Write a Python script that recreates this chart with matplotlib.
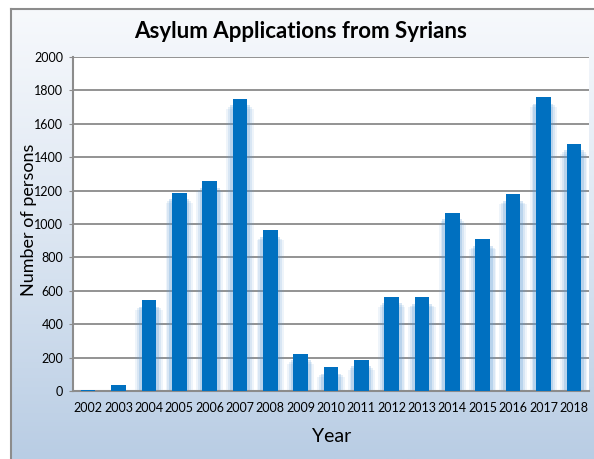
import matplotlib
matplotlib.use("Agg")
import matplotlib.pyplot as plt
import numpy as np
from matplotlib.colors import LinearSegmentedColormap

years = ["2002", "2003", "2004", "2005", "2006", "2007", "2008", "2009", "2010",
         "2011", "2012", "2013", "2014", "2015", "2016", "2017", "2018"]
applications = [8, 38, 545, 1188, 1255, 1750, 962, 224, 144,
                188, 565, 561, 1068, 908, 1178, 1760, 1481]
yticks = [0, 200, 400, 600, 800, 1000, 1200, 1400, 1600, 1800, 2000]

title = "Asylum Applications from Syrians"
xlabel = "Year"
ylabel = "Number of persons"

FONT = ["Lato", "DejaVu Sans"]
plt.rcParams['font.family'] = FONT

W, H = 594, 459
fig = plt.figure(figsize=(W / 100, H / 100), dpi=100)

# background gradient panel
bg = fig.add_axes([11 / W, 0, 1 - 11 / W, 1 - 9 / H])
cmap = LinearSegmentedColormap.from_list("g", ["#f7f9fc", "#dce6f2", "#b9cde4"])
grad = np.linspace(0, 1, 256).reshape(-1, 1)
bg.imshow(grad, aspect="auto", cmap=cmap, extent=[0, 1, 0, 1], origin="upper")
bg.set_xlim(0, 1)
bg.set_ylim(0, 1)
bg.set_xticks([])
bg.set_yticks([])
for s in ["right", "bottom"]:
    bg.spines[s].set_visible(False)
for s in ["left", "top"]:
    bg.spines[s].set_color("#8c8c8c")
    bg.spines[s].set_linewidth(1.5)

ax = fig.add_axes([73 / W, 1 - 391 / H, (589 - 73) / W, (391 - 57) / H])
ax.set_facecolor("white")
x = np.arange(len(years))

# soft glow/shadow behind bars
for w, a, off in [(0.9, 0.10, 60), (0.78, 0.15, 50), (0.66, 0.25, 40)]:
    ax.bar(x, np.maximum(np.array(applications) - off, 0), width=w,
           color="#5b9bd5", alpha=a, zorder=2, linewidth=0)
ax.bar(x, applications, width=0.48, color="#0070c0", zorder=3, linewidth=0)

ax.set_ylim(0, 2000)
ax.set_xlim(-0.5, len(years) - 0.5)
ax.set_yticks(yticks)
ax.set_yticklabels([str(v) for v in yticks], fontsize=9)
ax.set_xticks(x)
ax.set_xticklabels(years, fontsize=9)
ax.tick_params(axis="x", length=0, pad=8)
ax.tick_params(axis="y", length=3, color="#8c8c8c", pad=4)
ax.yaxis.grid(True, color="#8a8a8a", linewidth=1.3, zorder=1)
ax.set_axisbelow(True)
for s in ["top", "right"]:
    ax.spines[s].set_visible(False)
for s in ["left", "bottom"]:
    ax.spines[s].set_color("#8c8c8c")
    ax.spines[s].set_linewidth(1.5)

fig.text(301 / W, 1 - 31 / H, title, ha="center", va="center",
         fontsize=16, fontweight="bold")
fig.text(332 / W, 1 - 437 / H, xlabel, ha="center", va="center", fontsize=14)
fig.text(29 / W, 1 - 220 / H, ylabel, ha="center", va="center",
         fontsize=13, rotation=90)

fig.savefig("out.png", dpi=100)
